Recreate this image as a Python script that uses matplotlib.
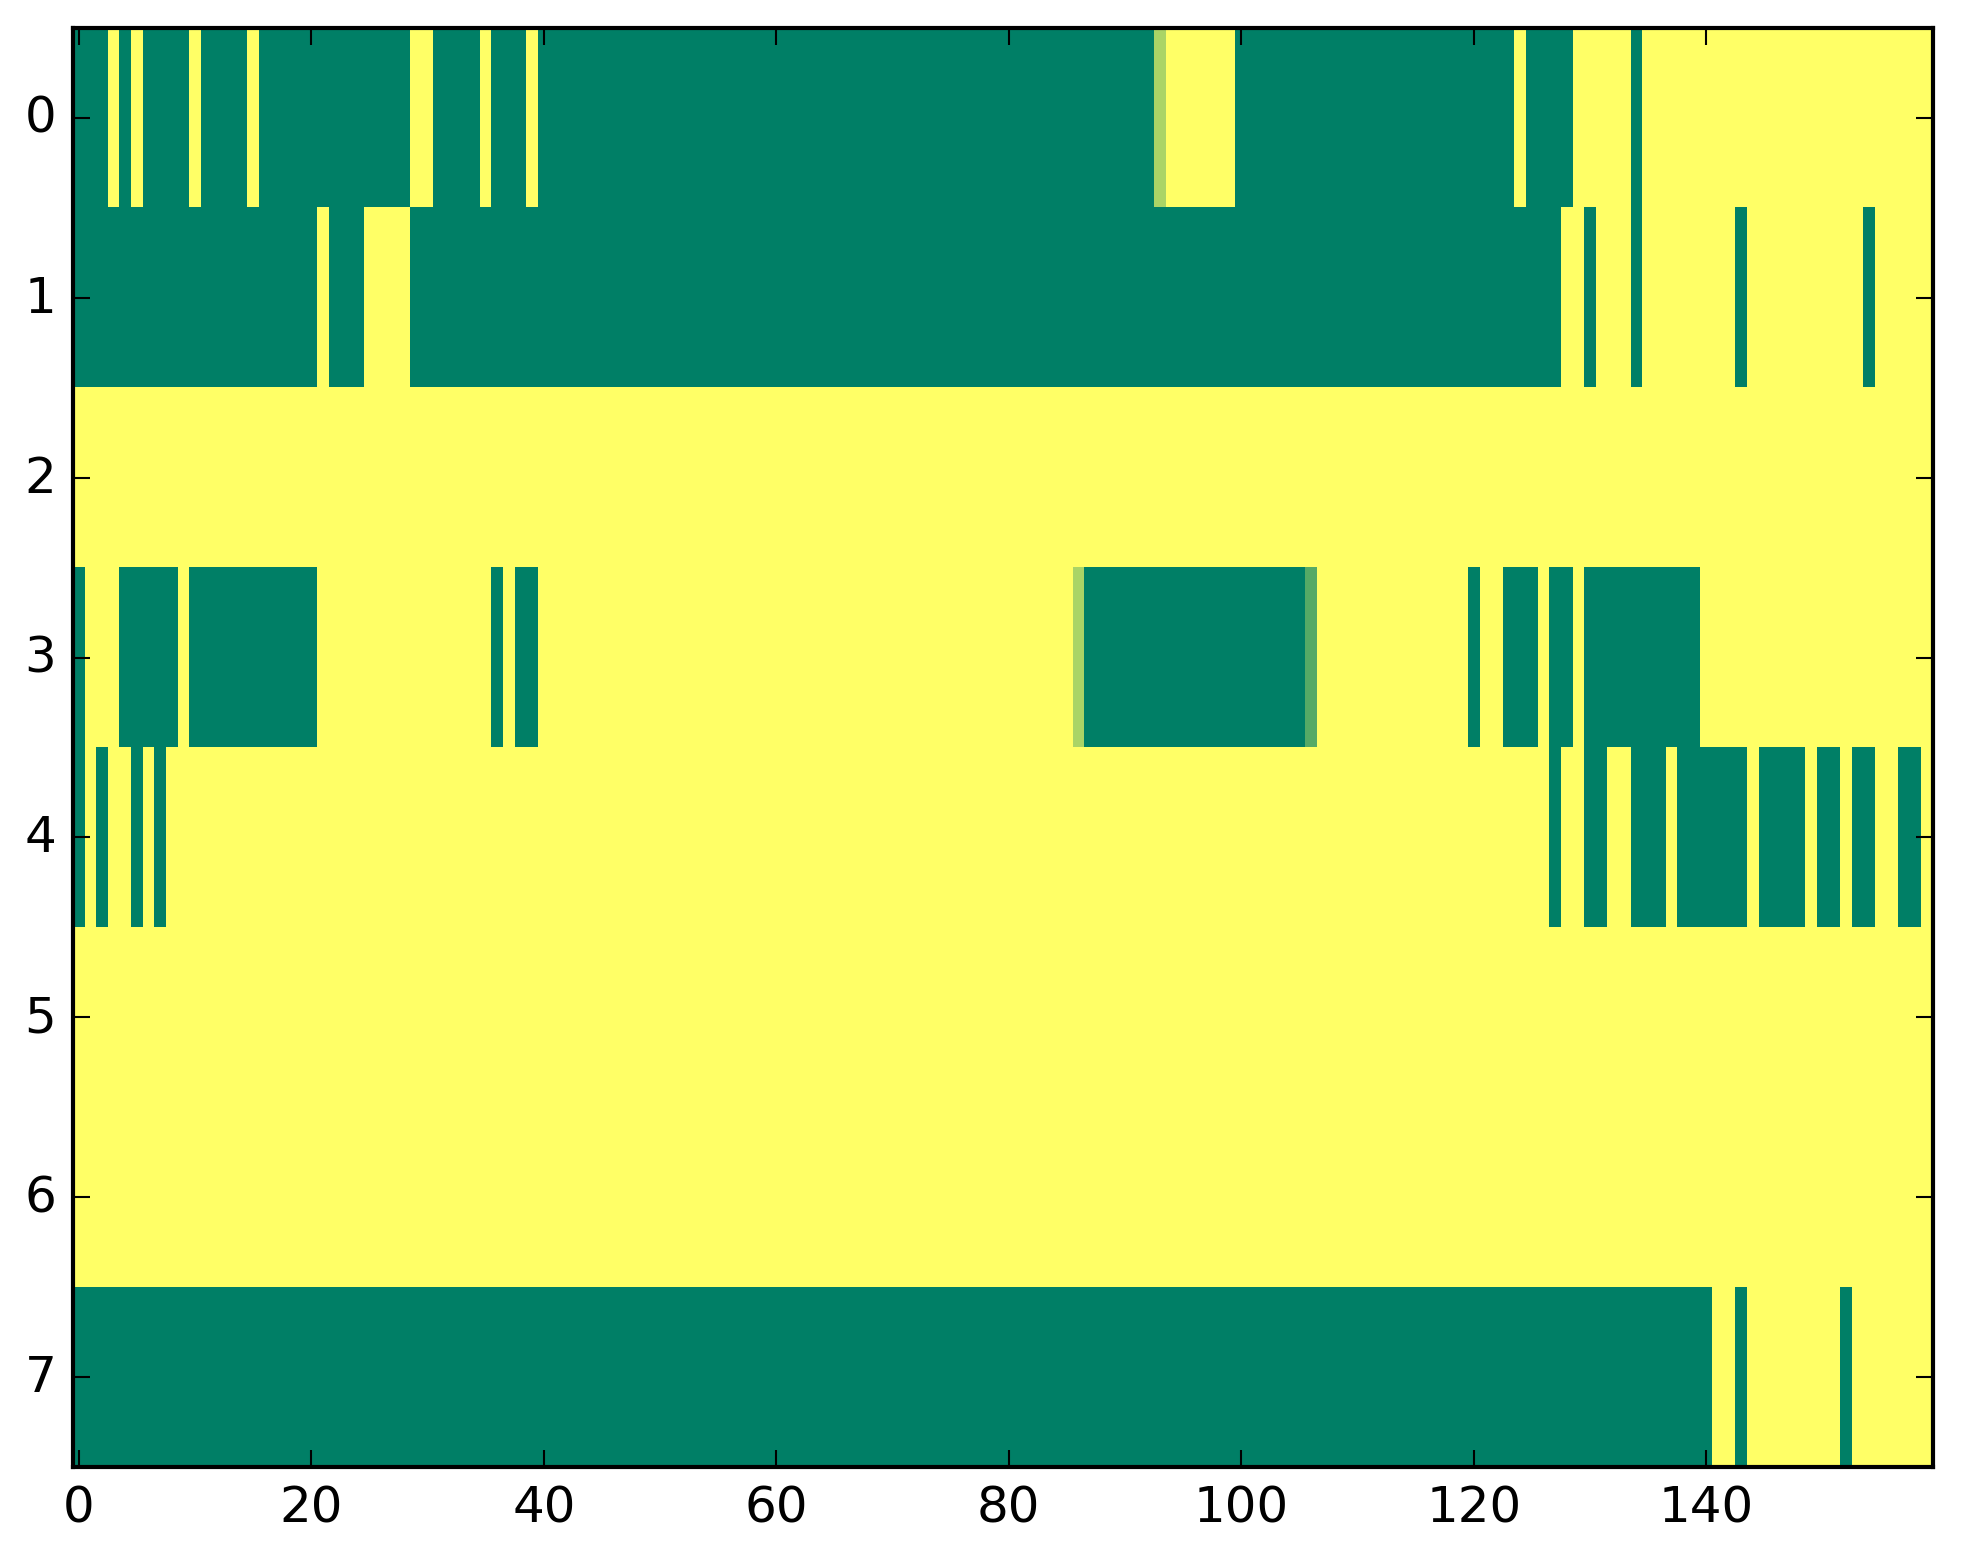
import numpy as np
import matplotlib
matplotlib.use("Agg")
import matplotlib.pyplot as plt

# cell values per row, 10 columns per chunk (0 = green end, 1 = yellow end)
# "a" and "b" are the two in-between cells (about 1/3 and 2/3)
LEVELS = {"0": 0.0, "a": 1 / 3, "b": 2 / 3, "1": 1.0}

row0 = ("0001010000" "1000010000" "0000000001" "1000010001"
        "0000000000" "0000000000" "0000000000" "0000000000"
        "0000000000" "000b111111" "0000000000" "0000000000"
        "0000100001" "1111011111" "1111111111" "1111111111")
row1 = ("0000000000" "0000000000" "0100011110" "0000000000"
        "0000000000" "0000000000" "0000000000" "0000000000"
        "0000000000" "0000000000" "0000000000" "0000000000"
        "0000000011" "0111011111" "1110111111" "1111011111")
row2 = ("1111111111" "1111111111" "1111111111" "1111111111"
        "1111111111" "1111111111" "1111111111" "1111111111"
        "1111111111" "1111111111" "1111111111" "1111111111"
        "1111111111" "1111111111" "1111111111" "1111111111")
row3 = ("0111000001" "0000000000" "0111111111" "1111110100"
        "1111111111" "1111111111" "1111111111" "1111111111"
        "111111b000" "0000000000" "000000a111" "1111111111"
        "0110001001" "0000000000" "1111111111" "1111111111")
row4 = ("0101101011" "1111111111" "1111111111" "1111111111"
        "1111111111" "1111111111" "1111111111" "1111111111"
        "1111111111" "1111111111" "1111111111" "1111111111"
        "1111111011" "0011000100" "0000100001" "0010011001")
row5 = row2
row6 = row2
row7 = ("0000000000" "0000000000" "0000000000" "0000000000"
        "0000000000" "0000000000" "0000000000" "0000000000"
        "0000000000" "0000000000" "0000000000" "0000000000"
        "0000000000" "0000000000" "0110111111" "1101111111")

rows = [row0, row1, row2, row3, row4, row5, row6, row7]
data = np.array([[LEVELS[ch] for ch in r] for r in rows])

plt.style.use("classic")
fig = plt.figure(figsize=(1963 / 300, 1564 / 300), dpi=300)
fig.subplots_adjust(left=0.0372, right=0.9847, top=0.9815, bottom=0.0614)
ax = fig.add_subplot(111)

ax.imshow(data, cmap="summer", vmin=0, vmax=1, interpolation="nearest",
          aspect="auto")
ax.set_xticks(np.arange(0, 141, 20))
ax.set_yticks(np.arange(0, 8))
ax.set_xlim(-0.5, data.shape[1] - 0.5)
ax.set_ylim(data.shape[0] - 0.5, -0.5)

fig.savefig("out.png", dpi=300, facecolor="white")
